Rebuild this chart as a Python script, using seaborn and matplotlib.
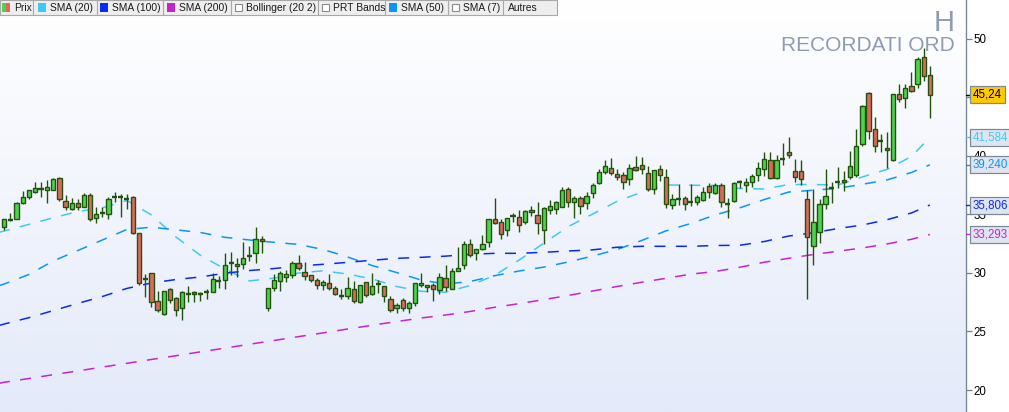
import numpy as np
import pandas as pd
import matplotlib
matplotlib.use("Agg")
import matplotlib.pyplot as plt
import matplotlib.transforms as mtransforms
from matplotlib.colors import LinearSegmentedColormap
from matplotlib.patches import Rectangle
import seaborn as sns

# weekly candles, oldest first
opens = [
    33.93, 34.57, 34.62, 35.98, 36.50, 36.92, 37.18, 37.09, 37.09, 38.12,
    36.15, 35.47, 35.98, 35.64, 36.67, 34.70, 35.13, 35.04, 36.50, 36.50,
    36.32, 36.50, 33.42, 29.49, 30.00, 27.61, 26.50, 28.63, 27.86, 27.01,
    28.21, 28.38, 28.21, 28.38, 28.38, 29.32, 29.40, 30.85, 30.77, 30.77,
    31.45, 31.71, 32.91, 27.01, 28.72, 29.32, 29.66, 29.83, 30.85, 30.09,
    29.83, 29.40, 28.97, 29.15, 28.72, 28.03, 28.03, 28.63, 27.52, 29.23,
    28.21, 29.06, 28.89, 27.78, 27.01, 27.69, 27.01, 27.44, 28.97, 28.80,
    28.97, 28.55, 29.57, 28.63, 30.17, 30.68, 32.48, 31.71, 32.05, 32.65,
    34.62, 34.36, 33.68, 34.87, 34.79, 34.36, 35.38, 34.96, 33.68, 35.38,
    35.47, 35.64, 37.18, 36.07, 36.41, 35.98, 36.84, 37.69, 38.63, 38.97,
    38.46, 38.38, 38.04, 39.06, 39.23, 38.55, 37.18, 38.89, 38.21, 35.81,
    36.32, 36.41, 36.07, 36.07, 36.24, 37.44, 36.84, 37.52, 35.90, 36.15,
    37.78, 37.52, 37.78, 38.38, 38.89, 39.66, 38.12, 39.74, 40.34, 38.72,
    38.72, 36.32, 32.31, 33.50, 35.90, 37.27, 37.78, 37.95, 38.21, 38.38,
    41.03, 45.38, 42.31, 41.28, 40.68, 39.66, 45.30, 44.96, 45.98, 46.15,
    48.46, 46.92,
]
highs = [
    34.62, 35.13, 36.07, 37.01, 37.09, 37.78, 37.78, 37.95, 38.12, 38.21,
    36.67, 36.41, 36.32, 36.84, 36.84, 35.64, 35.64, 36.50, 36.92, 36.75,
    36.75, 36.58, 33.42, 29.91, 30.00, 28.46, 28.46, 28.72, 27.95, 28.46,
    28.89, 28.46, 28.38, 28.63, 30.00, 29.74, 31.71, 31.79, 31.28, 32.65,
    32.31, 33.93, 33.16, 28.72, 29.91, 30.17, 30.26, 31.03, 31.54, 30.94,
    29.83, 29.57, 29.40, 29.91, 28.89, 28.63, 29.66, 29.32, 28.97, 29.23,
    30.00, 29.40, 28.89, 28.03, 27.44, 27.86, 27.61, 29.15, 30.00, 28.97,
    29.15, 30.00, 30.68, 30.43, 32.22, 32.74, 32.91, 32.05, 33.25, 34.62,
    36.41, 34.62, 34.70, 35.13, 35.38, 35.38, 35.73, 36.07, 35.64, 36.24,
    36.15, 37.35, 37.35, 36.58, 36.58, 36.92, 37.69, 38.89, 39.66, 39.83,
    38.89, 38.63, 39.32, 40.00, 39.91, 39.15, 38.80, 39.23, 38.89, 36.75,
    37.61, 36.58, 37.61, 36.67, 37.35, 37.69, 37.69, 37.69, 36.41, 37.78,
    37.95, 38.12, 38.46, 39.49, 40.34, 40.34, 40.09, 41.11, 41.62, 39.74,
    39.66, 37.09, 37.18, 36.32, 38.89, 37.78, 39.06, 38.72, 40.43, 42.31,
    44.36, 45.47, 43.33, 41.88, 42.05, 45.30, 46.15, 46.15, 47.18, 48.46,
    49.23, 47.69,
]
lows = [
    33.68, 34.44, 34.62, 35.90, 36.32, 36.84, 36.50, 35.98, 37.09, 36.15,
    35.38, 35.38, 35.38, 35.64, 34.44, 34.27, 34.79, 34.62, 36.07, 34.79,
    35.47, 33.33, 28.97, 27.95, 27.09, 26.67, 26.41, 27.44, 26.32, 25.98,
    27.52, 27.52, 27.61, 27.78, 28.38, 28.72, 28.63, 29.83, 29.66, 30.34,
    31.03, 30.85, 31.71, 26.75, 28.46, 28.46, 29.23, 29.57, 30.26, 29.40,
    29.23, 28.63, 28.55, 28.55, 28.12, 27.78, 27.78, 27.44, 27.44, 27.95,
    28.12, 28.29, 27.52, 26.67, 26.58, 26.75, 26.58, 27.18, 28.80, 28.38,
    27.61, 28.21, 28.46, 28.63, 30.17, 30.34, 31.37, 31.11, 31.97, 32.22,
    34.19, 32.91, 33.16, 34.36, 33.50, 34.19, 34.87, 33.33, 32.48, 35.04,
    35.04, 35.64, 35.64, 34.70, 35.04, 35.47, 36.41, 37.61, 38.46, 38.38,
    37.95, 37.18, 37.52, 38.72, 38.46, 37.01, 36.75, 37.86, 35.56, 35.47,
    35.81, 35.38, 35.73, 35.81, 36.15, 36.41, 36.75, 35.64, 34.70, 36.07,
    37.27, 36.92, 37.35, 37.86, 38.29, 38.04, 38.04, 39.23, 39.83, 37.78,
    37.52, 27.78, 30.68, 32.56, 35.47, 35.98, 37.27, 37.01, 38.04, 38.21,
    40.85, 41.45, 40.34, 40.34, 38.97, 39.57, 44.62, 44.10, 45.47, 45.81,
    46.41, 43.25,
]
closes = [
    34.62, 34.57, 35.98, 36.50, 37.09, 37.27, 37.18, 37.35, 38.04, 36.32,
    35.64, 35.98, 35.64, 36.67, 34.62, 35.04, 35.13, 36.32, 36.50, 36.50,
    36.32, 33.42, 29.15, 29.49, 27.52, 26.84, 28.46, 27.69, 26.84, 28.38,
    28.21, 28.21, 28.21, 28.38, 29.49, 29.32, 30.68, 30.85, 30.60, 31.28,
    31.45, 32.91, 32.74, 28.72, 29.40, 30.00, 29.91, 30.85, 30.43, 29.74,
    29.40, 28.97, 29.23, 28.72, 28.21, 28.03, 28.72, 27.61, 28.97, 28.12,
    28.89, 29.06, 28.03, 26.84, 27.26, 27.01, 27.44, 29.15, 29.15, 28.97,
    28.63, 29.66, 28.80, 30.17, 30.43, 32.48, 31.54, 32.05, 32.48, 34.62,
    34.27, 33.33, 34.70, 34.87, 34.10, 35.30, 35.21, 34.27, 35.56, 35.73,
    36.07, 37.09, 36.07, 36.41, 35.73, 36.58, 37.52, 38.63, 39.15, 38.55,
    38.21, 37.78, 38.97, 38.80, 38.89, 37.18, 38.80, 38.38, 35.90, 36.32,
    36.32, 35.90, 36.07, 36.50, 36.92, 36.92, 37.52, 36.07, 35.90, 37.69,
    37.78, 37.78, 38.29, 38.97, 39.74, 38.12, 39.66, 39.74, 40.09, 38.21,
    38.04, 33.08, 34.36, 35.90, 36.58, 37.27, 37.78, 37.78, 39.15, 40.85,
    44.27, 42.14, 40.85, 41.28, 40.51, 45.30, 44.87, 45.81, 45.56, 48.29,
    46.84, 45.24,
]

# moving averages, read at every 4th candle
sma_idx = [-1, 0, 4, 8, 12, 16, 20, 24, 28, 32, 36, 40, 44, 48, 52, 56, 60, 64, 68, 72,
           76, 80, 84, 88, 92, 96, 100, 104, 108, 112, 116, 120, 124, 128, 132, 136, 140, 144, 148, 151]
sma20 = [33.46, 33.59, 34.15, 34.72, 35.25, 35.57, 36.20, 34.96, 33.08, 31.51,
         30.34, 29.32, 29.56, 30.00, 30.19, 29.91, 29.49, 28.85, 28.44, 28.36,
         28.93, 29.80, 31.11, 32.54, 33.96, 35.04, 36.13, 36.91, 37.52, 37.50,
         37.48, 37.22, 37.18, 37.56, 37.56, 37.52, 38.21, 38.85, 39.96, 41.58]
sma50 = [28.89, 29.06, 29.87, 31.03, 31.92, 32.82, 33.72, 33.91, 33.69, 33.46,
         33.05, 32.82, 32.62, 32.44, 32.01, 31.37, 30.64, 30.04, 29.40, 29.06,
         29.27, 29.77, 30.17, 30.50, 30.94, 31.45, 32.01, 32.78, 33.61, 34.23,
         34.96, 35.57, 36.28, 36.92, 37.07, 37.24, 37.58, 37.95, 38.59, 39.24]
sma100 = [25.50, 25.64, 26.18, 26.79, 27.40, 27.99, 28.68, 29.15, 29.44, 29.66,
          29.98, 30.21, 30.38, 30.60, 30.74, 30.91, 31.09, 31.25, 31.34, 31.44,
          31.60, 31.68, 31.68, 31.77, 31.88, 31.98, 32.20, 32.28, 32.28, 32.28,
          32.35, 32.37, 32.69, 33.16, 33.44, 33.80, 34.10, 34.55, 35.13, 35.81]
sma200 = [20.56, 20.66, 20.98, 21.31, 21.63, 21.96, 22.28, 22.61, 22.93, 23.26,
          23.58, 23.91, 24.23, 24.56, 24.88, 25.21, 25.53, 25.85, 26.15, 26.41,
          26.71, 27.07, 27.38, 27.72, 28.08, 28.46, 28.85, 29.21, 29.55, 29.90,
          30.13, 30.49, 30.92, 31.26, 31.58, 31.86, 32.14, 32.48, 32.88, 33.29]

price_ticks = [20, 25, 30, 35, 40, 45, 50]
# 45 sits under the last-price box, so its label is not shown
price_tick_labels = ["20", "25", "30", "35", "40", "", "50"]
last_labels = ["45,24", "41,584", "39,240", "35,806", "33,293"]
last_values = [45.24, 41.584, 39.240, 35.806, 33.293]

legend_labels = ["Prix", "SMA (20)", "SMA (100)", "SMA (200)", "Bollinger (20 2)",
                 "PRT Bands", "SMA (50)", "SMA (7)", "Autres"]
title_code = "H"
title_name = "RECORDATI ORD"

# colours
edge = "#22530d"
green = "#4fd34f"
red = "#e0675f"
sma_colors = {"SMA (20)": "#3ccaf5", "SMA (50)": "#0a96f5",
              "SMA (100)": "#0a2af0", "SMA (200)": "#cc22cc"}
label_fc = ["#ffc900", "#dfe5f0", "#dfe5f0", "#dfe5f0", "#dfe5f0"]
label_tc = ["#000000", "#3ccaf5", "#0a96f5", "#0a2af0", "#cc22cc"]

sns.set_theme(style="white")
plt.rcParams["font.family"] = ["Liberation Sans", "DejaVu Sans"]

W, H = 1009, 412
fig = plt.figure(figsize=(W / 100, H / 100), dpi=100)
fig.patch.set_facecolor("white")
ax = fig.add_axes([0, 0, 966 / W, 1])

x_lo, x_hi = -0.7, 156.9
y_lo, y_hi = 18.12, 53.33

# soft vertical gradient behind the price
grad = np.linspace(0, 1, 256).reshape(-1, 1)
bg_cmap = LinearSegmentedColormap.from_list("bg", ["#ffffff", "#e4eafa"])
ax.imshow(grad, extent=[x_lo, x_hi, y_lo, y_hi], origin="upper", cmap=bg_cmap,
          aspect="auto", zorder=0)

# moving averages
sma_df = pd.DataFrame({
    "idx": sma_idx * 4,
    "value": sma20 + sma50 + sma100 + sma200,
    "serie": (["SMA (20)"] * len(sma_idx) + ["SMA (50)"] * len(sma_idx)
              + ["SMA (100)"] * len(sma_idx) + ["SMA (200)"] * len(sma_idx)),
})
sns.lineplot(data=sma_df, x="idx", y="value", hue="serie", style="serie",
             palette=sma_colors, dashes={k: (7.2, 6.8) for k in sma_colors},
             linewidth=1.1, legend=False, estimator=None, ax=ax, zorder=2)

# candles
idx = np.arange(len(closes))
o = np.array(opens)
c = np.array(closes)
ax.vlines(idx, lows, highs, color=edge, lw=1.0, zorder=3)
up = c > o
down = c < o
flat = c == o
ax.bar(idx[up], (c - o)[up], bottom=o[up], width=0.7, color=green,
       edgecolor=edge, linewidth=1.0, zorder=4)
ax.bar(idx[down], (o - c)[down], bottom=c[down], width=0.7, color=red,
       edgecolor=edge, linewidth=1.0, zorder=4)
ax.hlines(o[flat], idx[flat] - 0.42, idx[flat] + 0.42, color=edge, lw=1.7, zorder=4)

ax.set_xlim(x_lo, x_hi)
ax.set_ylim(y_lo, y_hi)
ax.set_xlabel("")
ax.set_ylabel("")
ax.set_xticks([])
ax.yaxis.tick_right()
ax.set_yticks(price_ticks)
ax.set_yticklabels(price_tick_labels)
ax.tick_params(axis="y", right=True, left=False, length=4, width=0.9,
               color="#6d7d8d", pad=1.5, labelsize=8.3, labelcolor="#000000")
for side in ["top", "left", "bottom"]:
    ax.spines[side].set_visible(False)
ax.spines["right"].set_color("#7a8a9a")
ax.spines["right"].set_linewidth(1.0)

# last values on the price scale
trans = mtransforms.blended_transform_factory(ax.transAxes, ax.transData)
for txt, val, fc, tc in zip(last_labels, last_values, label_fc, label_tc):
    ax.plot([1.0, 1.006], [val, val], transform=trans, color=tc, lw=1.0,
            clip_on=False, zorder=5)
    ax.text(1.0 + 7 / 966, val, txt, transform=trans, ha="left", va="center",
            fontsize=8.3, color=tc, clip_on=False, zorder=6,
            bbox=dict(boxstyle="square,pad=0.22", fc=fc, ec="#7b8a99", lw=0.9))

# overlay in pixel units for the toolbar and the watermark
ov = fig.add_axes([0, 0, 1, 1], zorder=10)
ov.set_xlim(0, W)
ov.set_ylim(H, 0)
ov.axis("off")
ov.patch.set_alpha(0)

ov.text(955, 31, title_code, ha="right", va="baseline", fontsize=21, color="#8f9bb0")
ov.text(955, 51, title_name, ha="right", va="baseline", fontsize=15, color="#8f9bb0")

ov.add_patch(Rectangle((0, 0), 557, 15, fc="#eeeeee", ec="#a8a8a8", lw=0.8))
swatch_x = [2, 38, 100, 167, 235, 322, 389, 452, 505]
seps = [33, 97, 163, 231, 318, 385, 448, 503]
kinds = ["prix", "SMA (20)", "SMA (100)", "SMA (200)", "box", "box", "SMA (50)", "box", None]
for sx in seps:
    ov.plot([sx, sx], [0, 15], color="#a8a8a8", lw=0.8)
for sx, kind, lab in zip(swatch_x, kinds, legend_labels):
    if kind == "prix":
        ov.add_patch(Rectangle((sx, 3), 4, 9, fc="#4fd34f", ec="none"))
        ov.add_patch(Rectangle((sx + 4, 3), 4, 9, fc="#e0675f", ec="none"))
        tx = sx + 12
    elif kind == "box":
        ov.add_patch(Rectangle((sx, 4), 7, 7, fc="white", ec="#8a8a8a", lw=0.8))
        tx = sx + 11
    elif kind is None:
        tx = sx + 3
    else:
        ov.add_patch(Rectangle((sx, 3), 8, 9, fc=sma_colors[kind], ec="none"))
        tx = sx + 12
    ov.text(tx, 7.8, lab, ha="left", va="center", fontsize=7.4, color="#1a1a1a")

fig.savefig("out.png", dpi=100)
